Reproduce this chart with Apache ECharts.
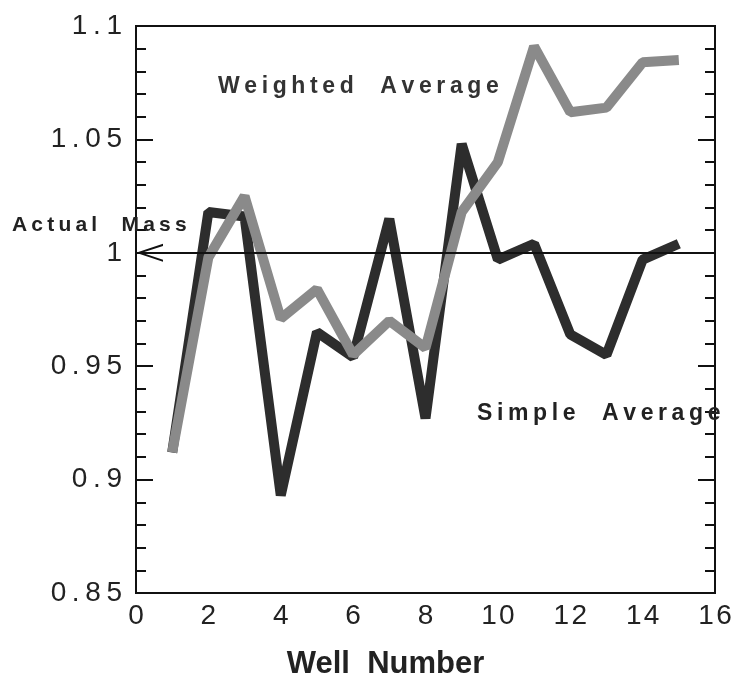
<!DOCTYPE html>
<html>
<head>
<meta charset="utf-8">
<script src="https://cdn.jsdelivr.net/npm/echarts@6/dist/echarts.min.js"></script>
<style>
  html, body { margin: 0; padding: 0; background: #fff; }
  #chart { width: 741px; height: 685px; }
</style>
</head>
<body>
<div id="chart"></div>
<script>
// Données
const puits = [1, 2, 3, 4, 5, 6, 7, 8, 9, 10, 11, 12, 13, 14, 15];
const moyennePonderee = [0.912, 0.998, 1.025, 0.971, 0.984, 0.955, 0.970, 0.958, 1.018, 1.040, 1.091, 1.062, 1.064, 1.084, 1.085];
const moyenneSimple = [0.912, 1.018, 1.016, 0.893, 0.965, 0.954, 1.015, 0.927, 1.048, 0.997, 1.004, 0.964, 0.955, 0.997, 1.004];
const masseReelle = 1;
const xMin = 0, xMax = 16;

const police = "'Liberation Sans', Arial, Helvetica, sans-serif";

// Espacement des lettres (la figure d'origine est très "aérée")
function espacer(txt) {
    return txt.split("").join("\u2009");
}

// === GRAPH ===
const chart = echarts.init(document.getElementById("chart"));

const paires = tab => puits.map((x, i) => [x, tab[i]]);

const option = {
    backgroundColor: "#fff",
    animation: false,
    grid: {
        left: 136, right: 26, top: 26, bottom: 86,
        show: true, borderColor: "#111", borderWidth: 2, backgroundColor: "transparent"
    },
    xAxis: {
        type: "value", min: xMin, max: xMax, interval: 2,
        axisLine: { show: true, lineStyle: { color: "#111", width: 2 } },
        axisTick: { show: false },
        splitLine: { show: false },
        axisLabel: { color: "#222", fontSize: 28, fontFamily: police, margin: 9,
                     formatter: v => String(v).split("").join("\u200A") },
        name: "Well  Number",
        nameLocation: "middle",
        nameGap: 56,
        nameTextStyle: { color: "#222", fontSize: 31, fontWeight: "bold", fontFamily: police, padding: [0, 80, 0, 0] }
    },
    yAxis: [
        {
            type: "value", min: 0.85, max: 1.1, interval: 0.05,
            axisLine: { show: true, lineStyle: { color: "#111", width: 2 } },
            axisTick: { show: true, inside: true, length: 17, lineStyle: { color: "#111", width: 2 } },
            minorTick: { show: true, splitNumber: 5, length: 10, lineStyle: { color: "#111", width: 2 } },
            splitLine: { show: false },
            axisLabel: { color: "#222", fontSize: 28, fontFamily: police, margin: 14,
                         formatter: v => espacer(String(+v.toFixed(2))) }
        },
        {
            type: "value", min: 0.85, max: 1.1, interval: 0.05, position: "right",
            axisLine: { show: true, lineStyle: { color: "#111", width: 2 } },
            axisTick: { show: true, inside: true, length: 17, lineStyle: { color: "#111", width: 2 } },
            minorTick: { show: true, splitNumber: 5, length: 10, lineStyle: { color: "#111", width: 2 } },
            splitLine: { show: false },
            axisLabel: { show: false }
        }
    ],
    series: [
        {
            name: "Simple Average",
            type: "line",
            data: paires(moyenneSimple),
            showSymbol: false,
            lineStyle: { color: "#2d2d2d", width: 10, join: "bevel" },
            markLine: {
                silent: true,
                label: { show: false },
                lineStyle: { color: "#111", width: 2, type: "solid" },
                data: [[
                    {
                        coord: [xMin, masseReelle],
                        // chevron ouvert, pointe en haut (tourné par ECharts vers la gauche)
                        symbol: "path://M0,10 L5,0 L10,10 L8.8,10 L5,2.2 L1.2,10 Z",
                        symbolSize: [18, 27],
                        symbolOffset: [0, 13.5]
                    },
                    { coord: [xMax, masseReelle], symbol: "none" }
                ]]
            },
            z: 2
        },
        {
            name: "Weighted Average",
            type: "line",
            data: paires(moyennePonderee),
            showSymbol: false,
            lineStyle: { color: "#8a8a8a", width: 10, join: "bevel" },
            z: 3
        }
    ],
    graphic: [
        { type: "text", left: 218, top: 75, z: 10,
          style: { text: espacer("Weighted  Average"), font: "bold 23px " + police, fill: "#333" } },
        { type: "text", left: 477, top: 402, z: 10,
          style: { text: espacer("Simple  Average"), font: "bold 23px " + police, fill: "#222" } },
        { type: "text", left: 12, top: 215, z: 10,
          style: { text: espacer("Actual  Mass"), font: "bold 21px " + police, fill: "#222" } }
    ]
};

chart.setOption(option);
window.addEventListener("resize", () => chart.resize());
</script>
</body>
</html>
